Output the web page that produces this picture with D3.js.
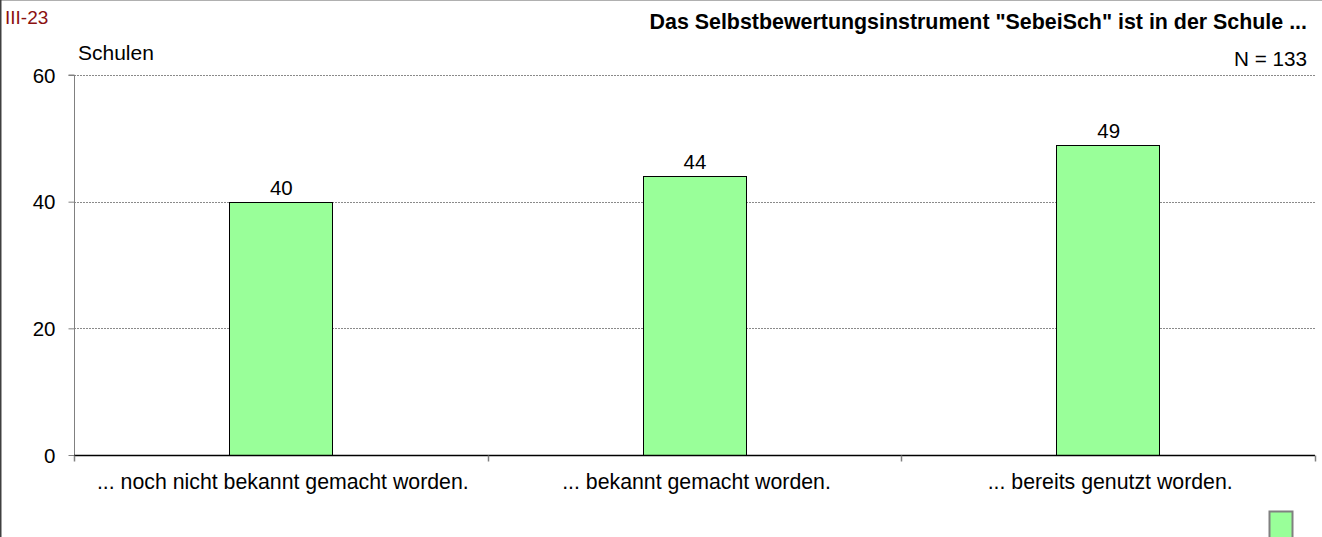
<!DOCTYPE html>
<html><head><meta charset="utf-8">
<script src="https://cdn.jsdelivr.net/npm/d3@7"></script>
<style>
html,body{margin:0;padding:0;background:#fff;}
svg{display:block;font-family:"Liberation Sans",Arial,sans-serif;}
</style></head>
<body>
<svg id="c" width="1322" height="537"></svg>
<script>
const categories = ["... noch nicht bekannt gemacht worden.", "... bekannt gemacht worden.", "... bereits genutzt worden."];
const values = [40, 44, 49];
const yTicks = [0, 20, 40, 60];
const title = "Das Selbstbewertungsinstrument \"SebeiSch\" ist in der Schule ...";
const code = "III-23";
const yLabel = "Schulen";
const nLabel = "N = 133";

const svg = d3.select("#c");
const W = 1322, H = 537;
const m = {left: 74, right: 1315, top: 75, bottom: 455};

// frame
svg.append("line").attr("x1",0).attr("x2",W).attr("y1",0.5).attr("y2",0.5).attr("stroke","#b0b0b0").attr("stroke-width",1);
svg.append("line").attr("x1",0.75).attr("x2",0.75).attr("y1",0).attr("y2",H).attr("stroke","#404040").attr("stroke-width",1.5);

const x = d3.scaleBand().domain(categories).range([m.left, m.right]).paddingInner(0).paddingOuter(0);
const y = d3.scaleLinear().domain([0, 60]).range([m.bottom, m.top]);

// gridlines
svg.append("g").selectAll("line").data(yTicks.filter(d=>d>0)).join("line")
  .attr("x1", m.left).attr("x2", m.right)
  .attr("y1", d=>Math.round(y(d))+0.5).attr("y2", d=>Math.round(y(d))+0.5)
  .attr("stroke","#8a8a8a").attr("stroke-width",1).attr("stroke-dasharray","2,1");

// bars
const bw = x.bandwidth()*0.25;
svg.append("g").selectAll("rect").data(values).join("rect")
  .attr("x",(d,i)=>Math.round(x(categories[i])+x.bandwidth()/2-bw/2)+0.5)
  .attr("y",d=>Math.round(y(d))+0.5)
  .attr("width",Math.round(bw))
  .attr("height",d=>Math.round(y(0))-Math.round(y(d)))
  .attr("fill","#99ff99").attr("stroke","#000").attr("stroke-width",1);

// value labels
svg.append("g").selectAll("text").data(values).join("text")
  .attr("x",(d,i)=>x(categories[i])+x.bandwidth()/2+0.5)
  .attr("y",d=>y(d)-7)
  .attr("text-anchor","middle").attr("font-size",20.5).attr("fill","#000")
  .text(d=>d);

// y axis
const yAxis = d3.axisLeft(y).tickValues(yTicks).tickSize(6).tickPadding(13).tickFormat(d3.format("d"));
const gy = svg.append("g").attr("transform",`translate(${m.left+0.5},0)`).call(yAxis);
gy.select(".domain").attr("stroke","#808080").attr("d",`M-6,${y(60)}H0V${y(0)}`);
gy.selectAll(".tick line").attr("stroke","#808080");
gy.selectAll("text").attr("font-size",20.5).attr("fill","#000").attr("font-family","Liberation Sans, Arial, sans-serif").attr("dy","0.35em");

// x axis
const gx = svg.append("g").attr("transform",`translate(0,${m.bottom+0.5})`);
gx.append("line").attr("x1",m.left).attr("x2",m.right).attr("stroke","#000").attr("stroke-width",1.5);
const tickX = [m.left, ...categories.map(c=>x(c)+x.bandwidth())];
gx.selectAll(".tk").data(tickX).join("line").attr("class","tk")
  .attr("x1",d=>Math.round(d)+0.5).attr("x2",d=>Math.round(d)+0.5).attr("y1",0).attr("y2",6)
  .attr("stroke","#808080").attr("stroke-width",1.5);
gx.selectAll("text").data(categories).join("text")
  .attr("x",d=>x(d)+x.bandwidth()/2+2).attr("y",33)
  .attr("text-anchor","middle").attr("font-size",21.3).attr("fill","#000")
  .text(d=>d);

// texts
svg.append("text").attr("x",5).attr("y",24).attr("font-size",19).attr("fill","#8b1010").text(code);
svg.append("text").attr("x",78).attr("y",60).attr("font-size",21).attr("fill","#000").text(yLabel);
svg.append("text").attr("x",1307).attr("y",29).attr("font-size",21.4).attr("font-weight","bold").attr("text-anchor","end").attr("fill","#000").text(title);
svg.append("text").attr("x",1307).attr("y",66).attr("font-size",20.7).attr("text-anchor","end").attr("fill","#000").text(nLabel);

// legend swatch
svg.append("rect").attr("x",1269.5).attr("y",511.5).attr("width",23).attr("height",30)
  .attr("fill","#99ff99").attr("stroke","#808080").attr("stroke-width",2);
</script>
</body></html>
